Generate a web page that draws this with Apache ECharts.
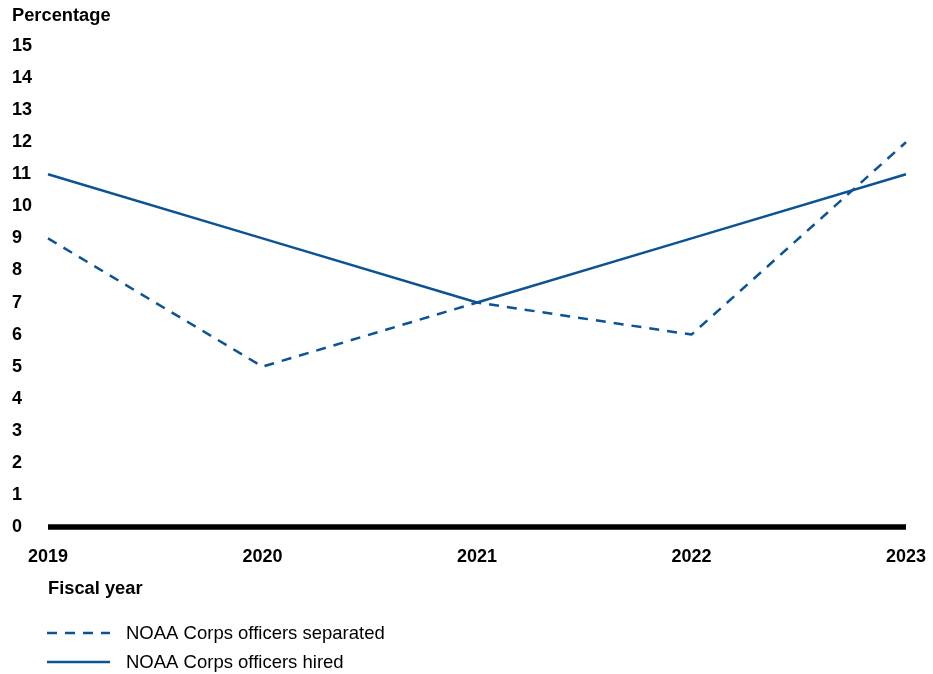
<!DOCTYPE html>
<html>
<head>
<meta charset="utf-8">
<script src="https://cdn.jsdelivr.net/npm/echarts@6/dist/echarts.min.js"></script>
<style>html,body{margin:0;padding:0;background:#fff}#c{width:933px;height:674px}</style>
</head>
<body>
<div id="c"></div>
<script>
const years = ['2019', '2020', '2021', '2022', '2023'];
const separated = [9, 5, 7, 6, 12];
const hired = [11, 9, 7, 9, 11];
const seriesNames = ['NOAA Corps officers separated', 'NOAA Corps officers hired'];
const yTitle = 'Percentage';
const xTitle = 'Fiscal year';

const color = '#0b5394';
const font = 'Liberation Sans, Arial, sans-serif';
const chart = echarts.init(document.getElementById('c'));
chart.setOption({
  animation: false,
  grid: { left: 48, right: 27, top: 46, bottom: 147, containLabel: false },
  graphic: [
    { type: 'text', x: 12, y: 16, style: { text: yTitle, font: 'bold 18.3px ' + font, fill: '#000', verticalAlign: 'middle' } },
    { type: 'text', x: 48, y: 589, style: { text: xTitle, font: 'bold 18.3px ' + font, fill: '#000', verticalAlign: 'middle' } },
    { type: 'line', shape: { x1: 47, y1: 633, x2: 110, y2: 633 }, style: { stroke: color, lineWidth: 2.5, lineDash: [10, 8] } },
    { type: 'text', x: 126, y: 634, style: { text: seriesNames[0], font: '18.5px ' + font, fill: '#000', verticalAlign: 'middle' } },
    { type: 'line', shape: { x1: 47, y1: 662, x2: 110, y2: 662 }, style: { stroke: color, lineWidth: 2.5 } },
    { type: 'text', x: 126, y: 663, style: { text: seriesNames[1], font: '18.5px ' + font, fill: '#000', verticalAlign: 'middle' } }
  ],
  xAxis: {
    type: 'category', boundaryGap: false, data: years,
    axisLine: { show: true, lineStyle: { color: '#000', width: 5.5, cap: 'butt' } },
    axisTick: { show: false },
    splitLine: { show: false },
    axisLabel: { color: '#000', fontFamily: font, fontWeight: 'bold', fontSize: 18, margin: 21 }
  },
  yAxis: {
    type: 'value', min: 0, max: 15, interval: 1,
    axisLine: { show: false }, axisTick: { show: false }, splitLine: { show: false },
    axisLabel: { color: '#000', fontFamily: font, fontWeight: 'bold', fontSize: 18, align: 'left', margin: 36, padding: [3, 0, 0, 0] }
  },
  series: [
    { name: seriesNames[0], type: 'line', data: separated, symbol: 'none', color: color,
      lineStyle: { color: color, width: 2.5, type: [10, 8] } },
    { name: seriesNames[1], type: 'line', data: hired, symbol: 'none', color: color,
      lineStyle: { color: color, width: 2.5 } }
  ]
});
</script>
</body>
</html>
